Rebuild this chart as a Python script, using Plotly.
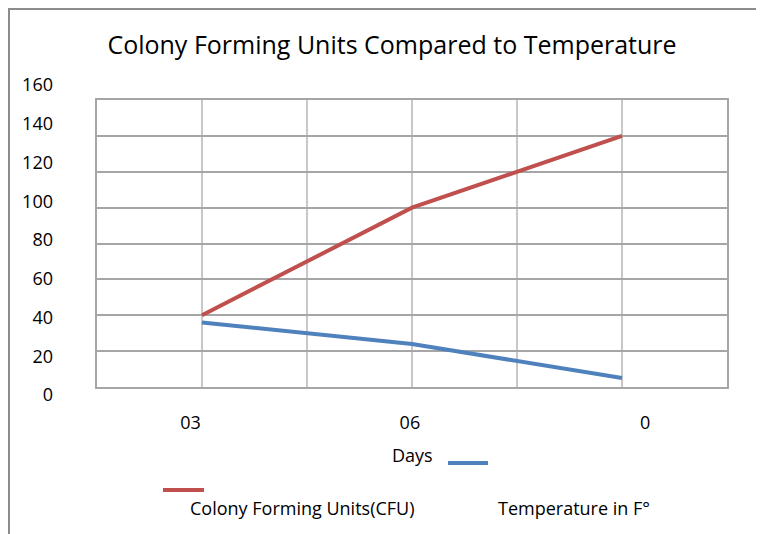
import plotly.graph_objects as go

# ---- data ----
x_pos = [1, 3, 5]                      # category slots on the 0..6 grid
cfu = [40, 100, 140]                   # Colony Forming Units (CFU)
temp = [36, 24, 5]                     # Temperature in F°
x_tick_text = ["03", "06", "0"]
x_tick_vals = [0.89, 2.98, 5.22]
y_tick_vals = [0, 20, 40, 60, 80, 100, 120, 140, 160]
y_tick_text = [str(v) for v in y_tick_vals]

OFF = 8                                # page body margin of the browser
W, H = 764 - OFF, 534 - OFF
ML, MR, MT, MB = 12, 37, 52, 100
PW, PH = W - ML - MR, H - MT - MB

def px(x):
    return (x - OFF - ML) / PW

def py(y):
    return (H - MB - (y - OFF)) / PH

FONT = "Open Sans"
FS = 18
RED = "#C0504D"
BLUE = "#4F81BD"

fig = go.Figure()
fig.add_trace(go.Scatter(x=x_pos, y=cfu, mode="lines", name="Colony Forming Units(CFU)",
                         line=dict(color=RED, width=4), xaxis="x", yaxis="y"))
fig.add_trace(go.Scatter(x=x_pos, y=temp, mode="lines", name="Temperature in F°",
                         line=dict(color=BLUE, width=4), xaxis="x", yaxis="y"))
# invisible helper traces so the label axes are drawn
fig.add_trace(go.Scatter(x=[None], y=[None], xaxis="x2", yaxis="y3", showlegend=False,
                         hoverinfo="skip"))
fig.add_trace(go.Scatter(x=[None], y=[None], xaxis="x3", yaxis="y2", showlegend=False,
                         hoverinfo="skip"))

x_dom = [px(97), px(727)]
y_dom = [py(387), py(100)]

fig.update_layout(
    width=W, height=H,
    margin=dict(l=ML, r=MR, t=MT, b=MB, autoexpand=False),
    paper_bgcolor="white", plot_bgcolor="rgba(0,0,0,0)",
    showlegend=False,
    font=dict(family=FONT, size=FS, color="#000000"),
    xaxis=dict(domain=x_dom, range=[0, 6], dtick=1, tick0=0, showticklabels=False,
               showgrid=True, gridcolor="#c8c8c8", gridwidth=1.5,
               showline=True, linecolor="#a6a6a6", linewidth=2, mirror=True,
               zeroline=False, ticks="", anchor="y", automargin=False),
    yaxis=dict(domain=y_dom, range=[0, 160], dtick=20, showticklabels=False,
               showgrid=True, gridcolor="#a6a6a6", gridwidth=2,
               showline=True, linecolor="#a6a6a6", linewidth=2, mirror=True,
               zeroline=False, ticks="", anchor="x", automargin=False),
    # axis that only carries the x tick labels
    xaxis2=dict(domain=x_dom, range=[0, 6], anchor="y3",
                tickvals=x_tick_vals, ticktext=x_tick_text,
                showgrid=False, showline=False, zeroline=False, ticks="",
                tickfont=dict(family=FONT, size=FS), automargin=False),
    yaxis3=dict(domain=[py(410), py(404)], visible=False, anchor="x2"),
    # axis that only carries the y tick labels
    yaxis2=dict(domain=[py(395), py(85)], range=[0, 160], anchor="x3",
                tickvals=y_tick_vals, ticktext=y_tick_text,
                showgrid=False, showline=False, zeroline=False, ticks="",
                tickfont=dict(family=FONT, size=FS), automargin=False),
    xaxis3=dict(domain=[px(54), px(57)], visible=False, anchor="y2"),
    title=dict(text="Colony Forming Units Compared to Temperature",
               x=(392 - OFF) / W, xanchor="center", y=1 - (45 - OFF) / H, yanchor="middle",
               font=dict(family=FONT, size=25, color="#000000"), automargin=False),
)

annotations = [
    dict(text="Days", x=px(412), y=py(455)),
    dict(text="Colony Forming Units(CFU)", x=px(302), y=py(508)),
    dict(text="Temperature in F°", x=px(574), y=py(508)),
]
fig.update_layout(annotations=[dict(a, xref="paper", yref="paper", showarrow=False,
                                    xanchor="center", yanchor="middle",
                                    font=dict(family=FONT, size=FS, color="#000000"))
                               for a in annotations])

shapes = [
    # legend swatches
    dict(type="line", x0=px(163), x1=px(204), y0=py(490), y1=py(490),
         line=dict(color=RED, width=4)),
    dict(type="line", x0=px(448), x1=px(488), y0=py(463), y1=py(463),
         line=dict(color=BLUE, width=4)),
    # chart frame (top and left edges)
    dict(type="line", x0=px(8), x1=px(764), y0=py(9), y1=py(9),
         line=dict(color="#8c8c8c", width=2)),
    dict(type="line", x0=px(9), x1=px(9), y0=py(8), y1=py(534),
         line=dict(color="#8c8c8c", width=2)),
]
fig.update_layout(shapes=[dict(s, xref="paper", yref="paper", layer="above") for s in shapes])

fig.write_html("out.html", config={"displayModeBar": False})
